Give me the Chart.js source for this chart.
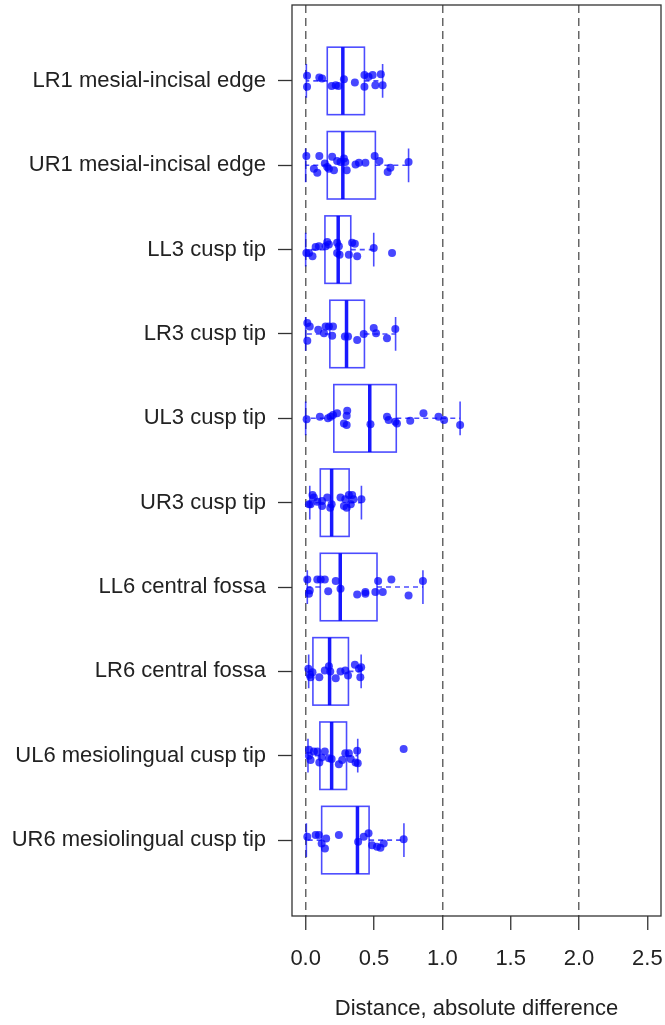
<!doctype html>
<html>

<head>
    <title>Distance boxplots</title>
    <script src="https://cdn.jsdelivr.net/npm/chart.js"></script>
    <style>
        body { margin: 0; background: #fff; }
    </style>
</head>

<body>
    <canvas id="grafico" width="665" height="1025"></canvas>

    <script>
        const categories = ['LR1 mesial-incisal edge', 'UR1 mesial-incisal edge', 'LL3 cusp tip', 'LR3 cusp tip',
            'UL3 cusp tip', 'UR3 cusp tip', 'LL6 central fossa', 'LR6 central fossa',
            'UL6 mesiolingual cusp tip', 'UR6 mesiolingual cusp tip'];

        // box stats
        const whiskerLo = [0.005, 0.0, 0.0, 0.0, 0.0, 0.03, 0.012, 0.022, 0.017, 0.005];
        const q1 = [0.158, 0.158, 0.141, 0.177, 0.206, 0.107, 0.107, 0.053, 0.104, 0.117];
        const medians = [0.272, 0.272, 0.238, 0.299, 0.469, 0.19, 0.253, 0.175, 0.19, 0.379];
        const q3 = [0.43, 0.51, 0.33, 0.43, 0.663, 0.318, 0.522, 0.313, 0.299, 0.464];
        const whiskerHi = [0.563, 0.753, 0.498, 0.658, 1.13, 0.408, 0.858, 0.406, 0.381, 0.719];

        const xTicks = [0, 0.5, 1, 1.5, 2, 2.5];
        const refLines = [0, 1, 2];

        // individual measurements and their vertical jitter (category units)
        const pointValues = [
            [0.01, 0.01, 0.10, 0.12, 0.19, 0.22, 0.24, 0.28, 0.36, 0.43, 0.43, 0.46, 0.49, 0.51, 0.55, 0.563],
            [0.005, 0.06, 0.085, 0.10, 0.14, 0.158, 0.17, 0.194, 0.207, 0.23, 0.255, 0.28, 0.29, 0.30, 0.365, 0.39, 0.437, 0.505, 0.54, 0.60, 0.62, 0.753],
            [0.005, 0.024, 0.05, 0.073, 0.097, 0.146, 0.158, 0.17, 0.23, 0.243, 0.23, 0.248, 0.316, 0.34, 0.36, 0.377, 0.498, 0.632],
            [0.012, 0.012, 0.03, 0.092, 0.134, 0.146, 0.17, 0.2, 0.194, 0.287, 0.31, 0.377, 0.425, 0.498, 0.515, 0.595, 0.656],
            [0.007, 0.104, 0.163, 0.182, 0.2, 0.23, 0.304, 0.30, 0.28, 0.30, 0.474, 0.595, 0.607, 0.656, 0.668, 0.765, 0.862, 0.972, 1.013, 1.13],
            [0.024, 0.036, 0.05, 0.06, 0.085, 0.12, 0.158, 0.12, 0.18, 0.19, 0.255, 0.28, 0.29, 0.30, 0.316, 0.34, 0.33, 0.35, 0.408],
            [0.012, 0.024, 0.03, 0.085, 0.11, 0.14, 0.165, 0.22, 0.255, 0.377, 0.437, 0.437, 0.51, 0.53, 0.564, 0.627, 0.753, 0.858],
            [0.02, 0.03, 0.036, 0.05, 0.10, 0.14, 0.17, 0.18, 0.22, 0.255, 0.29, 0.31, 0.36, 0.39, 0.406, 0.40],
            [0.024, 0.024, 0.036, 0.06, 0.085, 0.10, 0.117, 0.14, 0.17, 0.19, 0.243, 0.267, 0.29, 0.316, 0.33, 0.365, 0.377, 0.381, 0.717],
            [0.012, 0.073, 0.097, 0.117, 0.141, 0.15, 0.243, 0.384, 0.425, 0.46, 0.486, 0.522, 0.547, 0.571, 0.717]
        ];
        const pointJitter = [
            [-0.06, 0.07, -0.04, -0.03, 0.06, 0.05, 0.06, -0.02, 0.02, 0.07, -0.07, -0.05, -0.07, 0.05, -0.08, 0.05],
            [-0.11, 0.04, 0.09, -0.11, -0.02, 0.02, 0.04, -0.10, 0.06, -0.05, -0.04, -0.08, -0.04, 0.06, -0.01, -0.03, -0.03, -0.11, -0.05, 0.08, 0.03, -0.04],
            [0.04, 0.04, 0.08, -0.03, -0.04, -0.04, -0.09, -0.06, -0.08, -0.04, 0.04, 0.06, 0.06, -0.08, -0.07, 0.08, -0.02, 0.04],
            [-0.13, 0.08, -0.09, -0.05, -0.01, -0.09, -0.09, -0.09, 0.02, 0.03, 0.03, 0.07, 0, -0.07, -0.01, 0.05, -0.06],
            [0.01, -0.02, 0, -0.02, -0.04, -0.06, -0.09, -0.03, 0.06, 0.08, 0.07, -0.02, 0.02, 0.04, 0.06, 0.03, -0.06, -0.02, 0.02, 0.08],
            [0.02, 0.02, -0.09, -0.06, -0.01, -0.02, -0.06, 0.04, 0.06, 0.02, -0.06, 0.04, -0.04, 0.06, -0.09, -0.09, 0.02, -0.04, -0.04],
            [-0.09, 0.08, 0.04, -0.09, -0.09, -0.09, 0.05, -0.07, 0.02, 0.09, 0.08, 0.06, 0.06, -0.07, 0.06, -0.09, 0.10, -0.07],
            [-0.03, 0.04, 0.07, 0.01, 0.07, -0.01, -0.06, 0, 0.08, 0, -0.01, 0.05, -0.08, -0.03, -0.05, 0.07],
            [-0.07, 0, 0.05, -0.05, -0.05, 0.08, 0.02, -0.05, 0.03, 0.04, 0.10, 0.05, -0.03, -0.03, 0.04, 0.08, -0.06, 0.09, -0.08],
            [-0.04, -0.06, -0.06, 0.04, 0.10, -0.02, -0.06, 0.02, -0.04, -0.08, 0.06, 0.08, 0.09, 0.04, -0.01]
        ];

        const fonte = { family: "'Liberation Sans', Arial, sans-serif", size: 22 };
        const corTexto = '#222';
        const azul = 'rgba(0, 0, 255, 0.7)';

        var pontos = [];
        pointValues.forEach((valores, i) => {
            valores.forEach((v, k) => {
                pontos.push({ x: v, y: i + 1 + pointJitter[i][k] });
            });
        });

        // boxes, medians, whiskers and the plot frame
        const caixas = {
            id: 'caixas',
            beforeDatasetsDraw(chart) {
                const { ctx, scales: { x, y } } = chart;
                ctx.save();
                categories.forEach((c, i) => {
                    const yc = y.getPixelForValue(i + 1);
                    const topo = y.getPixelForValue(i + 1 - 0.4);
                    const base = y.getPixelForValue(i + 1 + 0.4);
                    const sTopo = y.getPixelForValue(i + 1 - 0.2);
                    const sBase = y.getPixelForValue(i + 1 + 0.2);
                    const xq1 = x.getPixelForValue(q1[i]);
                    const xq3 = x.getPixelForValue(q3[i]);
                    const xmed = x.getPixelForValue(medians[i]);
                    const xlo = x.getPixelForValue(whiskerLo[i]);
                    const xhi = x.getPixelForValue(whiskerHi[i]);

                    // whiskers
                    ctx.strokeStyle = azul;
                    ctx.lineWidth = 1.6;
                    ctx.setLineDash([5, 4]);
                    ctx.beginPath();
                    ctx.moveTo(xq1, yc); ctx.lineTo(xlo, yc);
                    ctx.moveTo(xq3, yc); ctx.lineTo(xhi, yc);
                    ctx.stroke();
                    ctx.setLineDash([]);
                    ctx.beginPath();
                    ctx.moveTo(xlo, sTopo); ctx.lineTo(xlo, sBase);
                    ctx.moveTo(xhi, sTopo); ctx.lineTo(xhi, sBase);
                    ctx.stroke();

                    // box
                    ctx.strokeRect(xq1, topo, xq3 - xq1, base - topo);

                    // median
                    ctx.strokeStyle = 'rgba(0, 0, 255, 0.9)';
                    ctx.lineWidth = 3.5;
                    ctx.beginPath();
                    ctx.moveTo(xmed, topo); ctx.lineTo(xmed, base);
                    ctx.stroke();
                });
                ctx.restore();
            },
            afterDraw(chart) {
                const { ctx, chartArea: a } = chart;
                ctx.save();
                ctx.strokeStyle = '#333';
                ctx.lineWidth = 1.3;
                ctx.strokeRect(a.left, a.top, a.right - a.left, a.bottom - a.top);
                ctx.restore();
            }
        };

        var grafico = new Chart(document.getElementById('grafico').getContext('2d'), {
            type: 'scatter',
            data: {
                datasets: [{
                    label: 'Distance',
                    data: pontos,
                    pointRadius: 4,
                    pointBackgroundColor: 'rgba(0, 0, 255, 0.72)',
                    pointBorderWidth: 0
                }]
            },
            options: {
                responsive: false,
                devicePixelRatio: 1,
                animation: false,
                events: [],
                layout: { padding: { top: 5, right: 4, left: 0, bottom: 0 } },
                plugins: {
                    legend: { display: false },
                    tooltip: { enabled: false }
                },
                scales: {
                    x: {
                        type: 'linear',
                        min: -0.1,
                        max: 2.6,
                        afterBuildTicks: s => { s.ticks = xTicks.map(v => ({ value: v })); },
                        afterFit: s => {
                            s.height = 109;
                            s.paddingLeft = 0;
                            s.paddingRight = 0;
                        },
                        ticks: {
                            callback: v => v.toFixed(1),
                            font: fonte,
                            color: corTexto,
                            padding: 16,
                            autoSkip: false,
                            maxRotation: 0
                        },
                        grid: {
                            color: ctx => (ctx.tick && refLines.includes(ctx.tick.value)) ? '#666' : 'rgba(0,0,0,0)',
                            lineWidth: 1.5,
                            tickColor: '#333',
                            tickLength: 14,
                            tickWidth: 1.3
                        },
                        border: { display: false, dash: [8, 5] },
                        title: {
                            display: true,
                            text: 'Distance, absolute difference',
                            font: fonte,
                            color: corTexto,
                            padding: { top: 0, bottom: 3 }
                        }
                    },
                    y: {
                        type: 'linear',
                        reverse: true,
                        min: 0.1,
                        max: 10.9,
                        afterBuildTicks: s => { s.ticks = categories.map((c, i) => ({ value: i + 1 })); },
                        afterFit: s => {
                            s.width = 292;
                            s.paddingTop = 0;
                            s.paddingBottom = 0;
                        },
                        ticks: {
                            callback: v => categories[v - 1],
                            font: fonte,
                            color: corTexto,
                            padding: 12,
                            autoSkip: false
                        },
                        grid: {
                            drawOnChartArea: false,
                            tickColor: '#333',
                            tickLength: 14,
                            tickWidth: 1.3
                        },
                        border: { display: false }
                    }
                }
            },
            plugins: [caixas]
        });
    </script>
</body>

</html>
